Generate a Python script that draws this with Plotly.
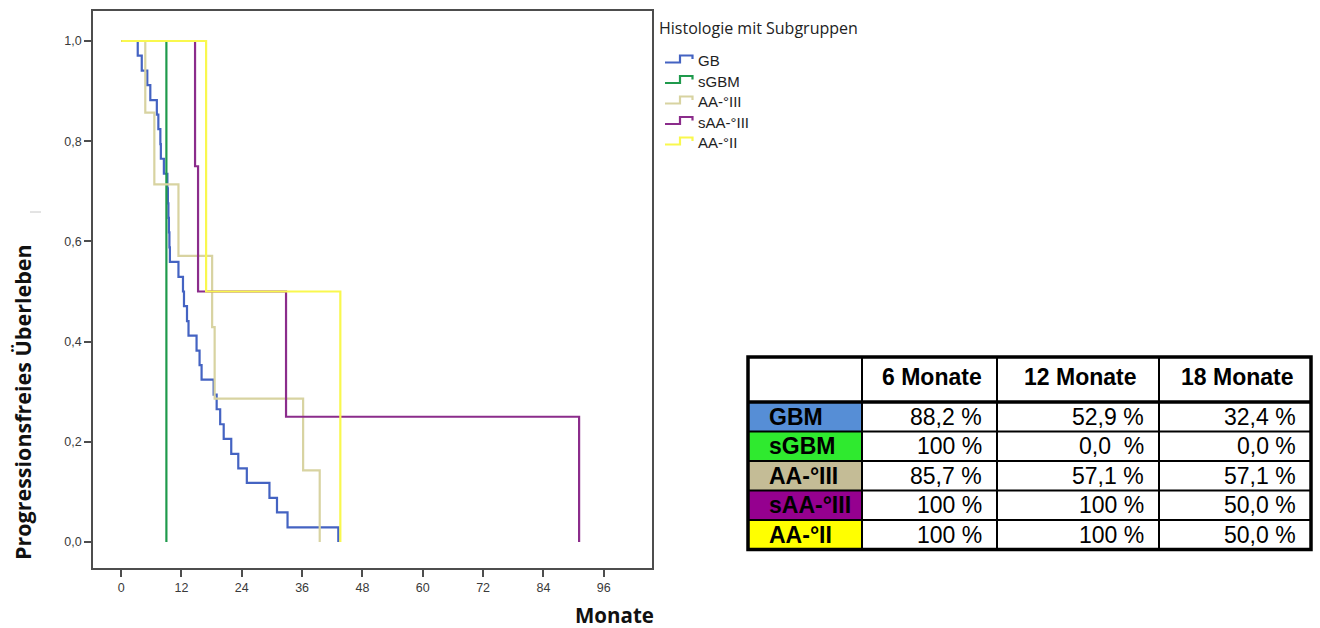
import plotly.graph_objects as go

W, H = 1320, 628

# Kaplan-Meier step data: months and progression-free proportion after each step
gb_months = [0, 3.3, 4.1, 5.2, 5.8, 7.1, 7.4, 7.8, 7.9, 8.5, 9.2, 9.3, 9.4, 9.5, 9.6,
             9.7, 11.4, 12.3, 12.5, 13.1, 13.4, 15.0, 15.6, 16.0, 18.4, 19.0, 19.7,
             20.4, 21.9, 23.3, 25.0, 29.5, 31.0, 33.1, 43.2]
gb_surv = [1.000, 0.971, 0.941, 0.912, 0.882, 0.853, 0.824, 0.794, 0.765, 0.735,
           0.706, 0.676, 0.647, 0.618, 0.588, 0.559, 0.529, 0.500, 0.471, 0.441,
           0.412, 0.382, 0.353, 0.324, 0.294, 0.265, 0.235, 0.206, 0.176, 0.147,
           0.118, 0.088, 0.059, 0.029, 0.000]

sgbm_months = [0, 9.0]
sgbm_surv = [1.0, 0.0]

aa3_months = [0, 4.8, 6.6, 11.4, 18.1, 18.6, 36.2, 39.5]
aa3_surv = [1.000, 0.857, 0.714, 0.571, 0.429, 0.286, 0.143, 0.000]

saa3_months = [0, 14.7, 15.3, 32.8, 91.1]
saa3_surv = [1.00, 0.75, 0.50, 0.25, 0.00]

aa2_months = [0, 16.9, 43.6]
aa2_surv = [1.0, 0.5, 0.0]

group_names = ["GB", "sGBM", "AA-°III", "sAA-°III", "AA-°II"]
group_colors = ["#4463c2", "#1f9a4c", "#d8d3a1", "#8b2c8b", "#f9f84e"]
group_months = [gb_months, sgbm_months, aa3_months, saa3_months, aa2_months]
group_surv = [gb_surv, sgbm_surv, aa3_surv, saa3_surv, aa2_surv]

x_ticks = [0, 12, 24, 36, 48, 60, 72, 84, 96]
y_ticks = [0.0, 0.2, 0.4, 0.6, 0.8, 1.0]

# Summary table: progression-free rate at 6 / 12 / 18 months
table_header = ["6 Monate", "12 Monate", "18 Monate"]
table_rows = ["GBM", "sGBM", "AA-°III", "sAA-°III", "AA-°II"]
table_row_fill = ["#568ed6", "#2fea2f", "#c4bc96", "#95008f", "#ffff00"]
pfs_6 = ["88,2 %", "100 %", "85,7 %", "100 %", "100 %"]
pfs_12 = ["52,9 %", "0,0\u00a0 %", "57,1 %", "100 %", "100 %"]
pfs_18 = ["32,4 %", "0,0 %", "57,1 %", "50,0 %", "50,0 %"]


def P(x, y):
    """pixel position -> paper fraction"""
    return x / W, 1 - y / H


def label(px_, py_, text, font, xanchor="center", **kw):
    x, y = P(px_, py_)
    return dict(x=x, y=y, xref="paper", yref="paper", text=text, showarrow=False,
                xanchor=xanchor, yanchor="middle", font=font, **kw)


fig = go.Figure()
for name, col, mx, sv in zip(group_names, group_colors, group_months, group_surv):
    fig.add_trace(go.Scatter(x=mx, y=sv, mode="lines", name=name,
                             line=dict(color=col, width=2.2, shape="hv"),
                             showlegend=False, hoverinfo="skip"))

# plot frame placement in pixels; y maps 1.0 -> 41 px and 0.0 -> 542 px
PL, PR, PT, PB = 93, 652, 11, 568
y_per_px = 1.0 / 501
axis_col = "#4d4d4d"
tick_font = dict(family="Liberation Sans, Arial", size=12.5, color="#3a3a3a")

fig.update_layout(
    width=W, height=H,
    margin=dict(l=0, r=0, t=0, b=0),
    paper_bgcolor="white", plot_bgcolor="white",
    separators=",.",
    xaxis=dict(domain=[PL / W, PR / W], range=[-5.6, 105.6],
               tickvals=x_ticks, ticks="outside", ticklen=7, tickwidth=1.5,
               tickcolor=axis_col, showline=True, mirror=True,
               linecolor=axis_col, linewidth=1.5, showgrid=False,
               zeroline=False, tickfont=tick_font),
    yaxis=dict(domain=[1 - PB / H, 1 - PT / H],
               range=[-(PB - 542) * y_per_px, 1 + (41 - PT) * y_per_px],
               tickvals=y_ticks, tickformat=".1f", ticks="outside",
               ticklen=7, tickwidth=1.5, tickcolor=axis_col, showline=True,
               mirror=True, linecolor=axis_col, linewidth=1.5,
               showgrid=False, zeroline=False, tickfont=tick_font),
)

ann = []
shapes = []

# axis titles
title_font = dict(family="Open Sans", color="#111")
ann.append(label(614, 615, "<b>Monate</b>", dict(title_font, size=20.5)))
ann.append(label(22, 402, "<b>Progressionsfreies Überleben</b>",
                 dict(title_font, size=21.5), textangle=-90))
x0, y0 = P(30, 212)
x1, _ = P(41, 212)
shapes.append(dict(type="line", xref="paper", yref="paper", x0=x0, x1=x1,
                   y0=y0, y1=y0, line=dict(color="#c8c8c8", width=1)))

# legend block
ann.append(label(657, 28, "Histologie mit Subgruppen",
                 dict(family="Open Sans", size=16, color="#222"), xanchor="left"))
for i, (name, col) in enumerate(zip(group_names, group_colors)):
    cy = 60.5 + 20.5 * i
    pts = [(665, cy + 2), (680, cy + 2), (680, cy - 5), (692.5, cy - 5), (692.5, cy - 1.5)]
    path = "M " + " L ".join("%.5f,%.5f" % P(px_, py_) for px_, py_ in pts)
    shapes.append(dict(type="path", xref="paper", yref="paper", path=path,
                       line=dict(color=col, width=2.2)))
    ann.append(label(696, cy, name,
                     dict(family="Liberation Sans, Arial", size=15, color="#1e1e1e"),
                     xanchor="left"))

# summary table
col_edges = [748, 862, 997, 1159, 1311]
row_edges = [357, 402, 431.5, 461, 490.5, 520, 549.5]
cell_font = dict(family="Liberation Sans, Arial", size=23, color="#000")

for r, fill in enumerate(table_row_fill):
    x0, y0 = P(col_edges[0], row_edges[r + 1])
    x1, y1 = P(col_edges[1], row_edges[r + 2])
    shapes.append(dict(type="rect", xref="paper", yref="paper", x0=x0, x1=x1,
                       y0=y0, y1=y1, fillcolor=fill, line=dict(width=0)))

for cx in col_edges[1:-1]:
    x0, y0 = P(cx, row_edges[0])
    _, y1 = P(cx, row_edges[-1])
    shapes.append(dict(type="line", xref="paper", yref="paper", x0=x0, x1=x0,
                       y0=y0, y1=y1, line=dict(color="#000", width=2)))
for k, ry in enumerate(row_edges[1:-1]):
    x0, y0 = P(col_edges[0], ry)
    x1, _ = P(col_edges[-1], ry)
    shapes.append(dict(type="line", xref="paper", yref="paper", x0=x0, x1=x1,
                       y0=y0, y1=y0, line=dict(color="#000", width=3.5 if k == 0 else 2)))
x0, y0 = P(col_edges[0], row_edges[0])
x1, y1 = P(col_edges[-1], row_edges[-1])
shapes.append(dict(type="rect", xref="paper", yref="paper", x0=x0, x1=x1,
                   y0=y0, y1=y1, line=dict(color="#000", width=3.5)))

for c, head in enumerate(table_header):
    ann.append(label((col_edges[c + 1] + col_edges[c + 2]) / 2 + 2,
                     (row_edges[0] + row_edges[1]) / 2 - 3,
                     "<b>%s</b>" % head, cell_font))

for r, name in enumerate(table_rows):
    yc = (row_edges[r + 1] + row_edges[r + 2]) / 2
    ann.append(label(col_edges[0] + 19, yc, "<b>%s</b>" % name, cell_font, xanchor="left"))
    for c, vals in enumerate([pfs_6, pfs_12, pfs_18]):
        ann.append(label(col_edges[c + 2] - 13, yc, vals[r], cell_font, xanchor="right"))

fig.update_layout(annotations=ann, shapes=shapes)
fig.write_html("out.html")
